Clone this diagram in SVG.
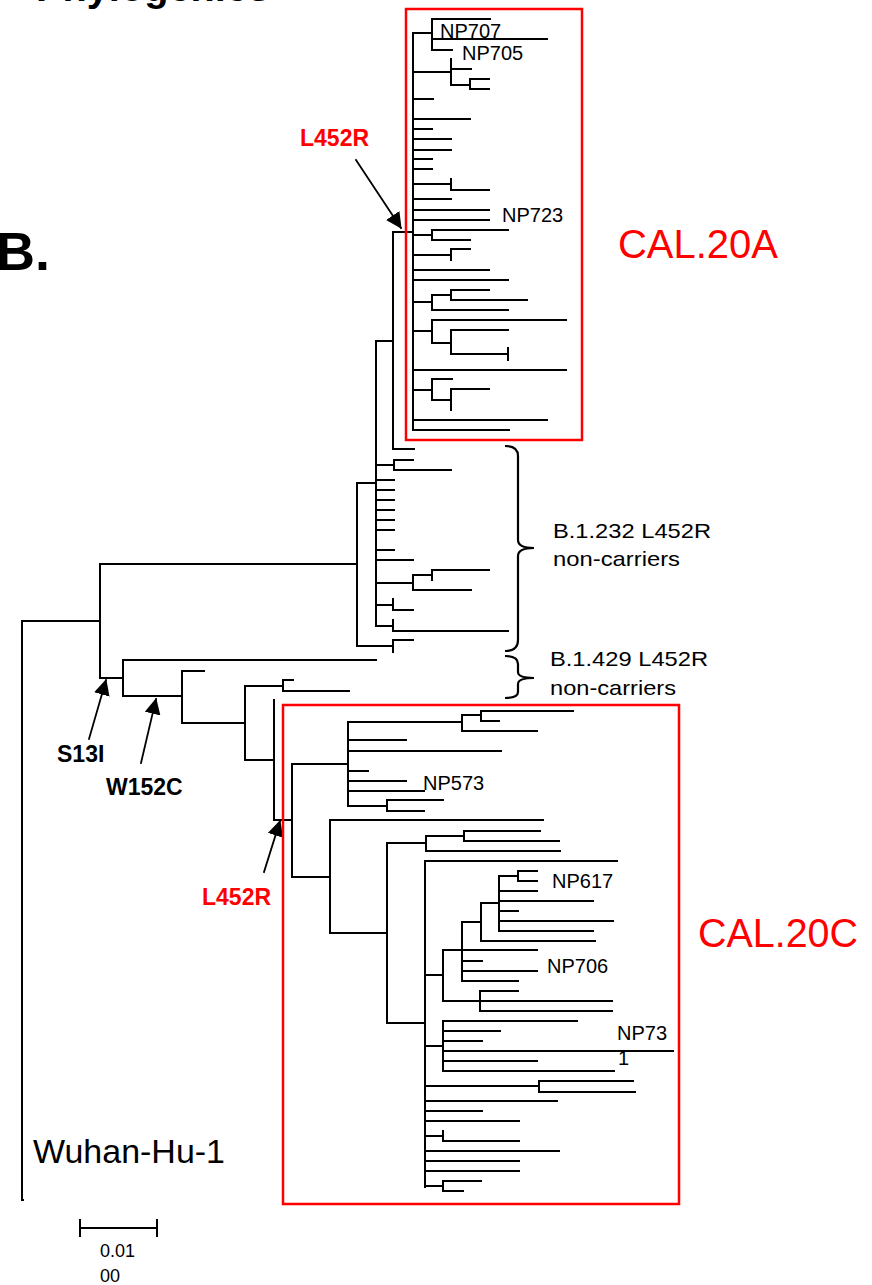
<svg xmlns="http://www.w3.org/2000/svg" width="872" height="1285" viewBox="0 0 872 1285">
<style>
.t{fill:none;stroke:#000;stroke-width:2;stroke-linecap:square}
.box{fill:none;stroke:#f00;stroke-width:2.5}
.np{font-family:"Liberation Sans",Arial,sans-serif;font-size:20px;fill:#000}
.grp{font-family:"Liberation Sans",Arial,sans-serif;font-size:21px;fill:#000}
.mut{font-family:"Liberation Sans",Arial,sans-serif;font-size:23px;font-weight:bold;fill:#000}
.red{fill:#f00}
.cal{font-family:"Liberation Sans",Arial,sans-serif;font-size:40px;fill:#f00}
.arr{fill:none;stroke:#000;stroke-width:1.8}
</style>
<defs>
<marker id="ah" viewBox="0 0 16 16" refX="15" refY="8" markerWidth="16" markerHeight="16" markerUnits="userSpaceOnUse" orient="auto">
<path d="M0 0 L16 8 L0 16 Z" fill="#000"/>
</marker>
</defs>
<rect width="872" height="1285" fill="#fff"/>

<g id="title"><text x="36" y="1" font-family="Liberation Sans,Arial,sans-serif" font-size="38" font-weight="bold" textLength="234" lengthAdjust="spacingAndGlyphs">Phylogenies</text></g>
<g id="panel-label"><text x="-4" y="270" font-family="Liberation Sans,Arial,sans-serif" font-size="54" font-weight="bold">B.</text></g>

<g id="connectors" class="t">
<!-- root -->
<path d="M22 621 V1200 H23 M22 621 H100 M100 564 V678 M100 564 H357 M100 678 H123 M123 660 V696 M123 660 H376 M123 696 H182 M182 671 V723 M182 671 H204 M182 723 H245 M245 686 V760 M245 686 H283 M245 760 H274 M283 680 V691 M283 680 H293 M283 691 H349 M274 700 V820 M274 820 H292 M292 764 V877 M292 764 H348 M292 877 H330"/>
<!-- B.1.232 group -->
<path d="M357 483 V646 M357 483 H376 M357 646 H393 M376 341 V626 M376 341 H393 M376 465 H394 M394 460 V470 M394 460 H413 M394 470 H451 M376 480 H394 M376 490 H394 M376 500 H394 M376 510 H394 M376 520 H394 M376 530 H394 M376 550 H394 M376 560 H413 M376 583 H413 M413 575 V590 M413 575 H432 M432 570 V580 M432 570 H489 M413 590 H471 M376 605 H393 M393 599 V610 M393 610 H413 M376 626 H393 M393 620 V631 M393 631 H508 M393 640 V652 M393 640 H413"/>
<!-- CAL.20A -->
<path d="M393 232 V449 M393 232 H413 M393 449 H414 M413 33 V430 M413 33 H432 M432 19 V50 M432 19 H490 M432 39 H547 M432 50 H452 M413 72 H451 M451 59 V85 M451 69 H471 M451 85 H470 M470 79 V89 M470 79 H489 M470 89 H489 M413 99 H433 M413 119 H470 M413 129 H432 M413 139 H451 M413 150 H451 M413 159 H432 M413 169 H432 M413 184 H451 M451 179 V190 M451 190 H489 M413 199 H451 M413 210 H489 M413 220 H489 M413 235 H432 M432 230 V240 M432 230 H508 M432 240 H470 M413 255 H451 M451 249 V260 M451 249 H470 M413 270 H489 M413 280 H508 M413 302 H432 M432 295 V310 M432 295 H451 M451 290 V300 M451 290 H489 M451 300 H527 M432 310 H508 M413 331 H432 M432 320 V343 M432 320 H566 M432 343 H451 M451 330 V354 M451 330 H508 M451 354 H508 M508 348 V360 M413 370 H566 M413 390 H432 M432 379 V400 M432 379 H452 M432 400 H451 M451 389 V410 M451 389 H489 M413 420 H547 M413 430 H509"/>
<!-- CAL.20C -->
<path d="M348 722 V806 M348 722 H462 M462 715 V731 M462 715 H481 M481 711 V721 M481 711 H573 M481 721 H499 M462 731 H537 M348 740 H406 M348 751 H501 M348 771 H368 M348 781 H406 M348 791 H424 M348 806 H387 M387 800 V811 M387 800 H443 M387 811 H424"/>
<path d="M330 820 V933 M330 820 H543 M330 933 H387 M387 843 V1023 M387 843 H426 M426 836 V851 M426 836 H464 M464 831 V841 M464 831 H540 M464 841 H559 M426 851 H560 M387 1023 H425 M425 861 V1187 M425 861 H617 M425 975 H443 M443 950 V1001 M443 950 H537 M462 922 V981 M462 922 H481 M481 903 V941 M481 903 H499 M499 876 V931 M499 876 H518 M518 871 V881 M518 871 H537 M518 881 H537 M499 891 H537 M499 901 H593 M499 911 H518 M499 921 H613 M499 931 H593 M481 941 H595 M462 961 H482 M462 971 H537 M462 981 H518 M443 1001 H612 M480 991 V1011 M480 991 H518 M480 1011 H612 M425 1046 H443 M443 1021 V1071 M443 1021 H577 M443 1031 H500 M443 1041 H482 M443 1051 H673 M443 1061 H537 M443 1071 H614 M425 1086 H539 M539 1081 V1092 M539 1081 H633 M539 1092 H635 M425 1101 H557 M425 1111 H482 M425 1121 H519 M425 1136 H443 M443 1131 V1141 M443 1141 H519 M425 1151 H559 M425 1161 H519 M425 1171 H519 M425 1186 H443 M443 1181 V1191 M443 1181 H481 M443 1191 H463"/>
<!-- arrows -->
<path class="arr" d="M356 160 L401 228" marker-end="url(#ah)"/>
<path class="arr" d="M89 739 L106 680" marker-end="url(#ah)"/>
<path class="arr" d="M141 763 L156 699" marker-end="url(#ah)"/>
<path class="arr" d="M264 872 L280 821" marker-end="url(#ah)"/>
</g>

<g id="box-cal20a"><rect class="box" x="406" y="9" width="176" height="431"/></g>
<g id="box-cal20c"><rect class="box" x="283" y="705" width="396" height="499"/></g>

<g id="braces" fill="none" stroke="#000" stroke-width="2.2">
<path d="M505 446 Q518 446 518 456 V540 Q518 548 534 548 Q518 548 518 556 V640 Q518 651 505 651"/>
<path d="M505 656 Q518 656 518 664 V672 Q518 678 534 678 Q518 678 518 684 V692 Q518 698 505 698"/>
</g>

<g id="leaf-labels" class="np">
<text x="440" y="38">NP707</text>
<text x="462" y="60">NP705</text>
<text x="502" y="222">NP723</text>
<text x="423" y="790">NP573</text>
<text x="552" y="888">NP617</text>
<text x="547" y="973">NP706</text>
<text x="617" y="1040">NP73</text>
<text x="618" y="1065">1</text>
</g>

<g id="group-labels" class="grp">
<text x="553" y="538" textLength="158" lengthAdjust="spacingAndGlyphs">B.1.232 L452R</text>
<text x="553" y="566" textLength="127" lengthAdjust="spacingAndGlyphs">non-carriers</text>
<text x="550" y="666" textLength="158" lengthAdjust="spacingAndGlyphs">B.1.429 L452R</text>
<text x="550" y="695" textLength="126" lengthAdjust="spacingAndGlyphs">non-carriers</text>
</g>

<g id="mutations" class="mut">
<text class="red" x="300" y="146">L452R</text>
<text class="red" x="202" y="905">L452R</text>
<text x="57" y="762">S13I</text>
<text x="106" y="795">W152C</text>
</g>

<g id="clade-labels" class="cal">
<text x="618" y="258" textLength="160" lengthAdjust="spacingAndGlyphs">CAL.20A</text>
<text x="698" y="947" textLength="160" lengthAdjust="spacingAndGlyphs">CAL.20C</text>
</g>

<g id="root-label"><text x="33" y="1163" font-family="Liberation Sans,Arial,sans-serif" font-size="33" textLength="192" lengthAdjust="spacingAndGlyphs">Wuhan-Hu-1</text></g>

<g id="scale-bar">
<path class="t" style="stroke-linecap:butt" d="M80 1228 H157 M80 1219 V1237 M157 1219 V1237"/>
<text class="np" style="font-size:18px" x="100" y="1257">0.01</text>
<text class="np" style="font-size:18px" x="100" y="1282">00</text>
</g>
</svg>
